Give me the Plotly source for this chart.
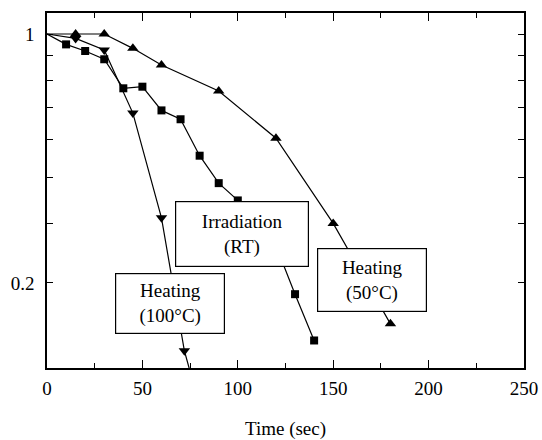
import math
import plotly.graph_objects as go

# ---- data ----
time_rt = [0, 10, 20, 30, 40, 50, 60, 70, 80, 90, 100, 110, 120, 130, 140]
ratio_rt = [1.0, 0.951, 0.921, 0.885, 0.769, 0.775, 0.691, 0.662, 0.555,
            0.486, 0.447, 0.403, 0.359, 0.284, 0.227]

time_50 = [0, 15, 30, 45, 60, 90, 120, 150, 180]
ratio_50 = [1.0, 1.0, 1.0, 0.933, 0.861, 0.759, 0.604, 0.400, 0.246]

time_100 = [0, 15, 30, 45, 60, 72, 80]
ratio_100 = [1.0, 0.979, 0.926, 0.682, 0.411, 0.216, 0.165]

x_ticks = [0, 50, 100, 150, 200, 250]
x_ticklabels = ["0", "50", "100", "150", "200", "250"]
x_minor = [25, 75, 125, 175, 225]
y_ticks = [1.0, 0.9, 0.8, 0.7, 0.6, 0.5, 0.4, 0.3]
y_ticklabels = ["1", "", "", "", "", "", "", "0.2"]

labels = ["Irradiation<br>(RT)", "Heating<br>(100°C)", "Heating<br>(50°C)"]

FONT = "Liberation Serif, Times New Roman, serif"


def sizes(xs, s):
    # the common starting point (t = 0) carries no marker in the reference
    return [0 if x == 0 else s for x in xs]


fig = go.Figure()
line_style = dict(color="black", width=1.2)
no_outline = dict(width=0)
fig.add_trace(go.Scatter(x=time_rt, y=ratio_rt, mode="lines+markers",
                         line=line_style,
                         marker=dict(symbol="square", size=sizes(time_rt, 8),
                                     color="black", opacity=1, line=no_outline),
                         name="Irradiation (RT)"))
fig.add_trace(go.Scatter(x=time_50, y=ratio_50, mode="lines+markers",
                         line=line_style,
                         marker=dict(symbol="triangle-up", size=sizes(time_50, 10),
                                     color="black", opacity=1, line=no_outline),
                         name="Heating (50°C)"))
fig.add_trace(go.Scatter(x=time_100, y=ratio_100, mode="lines+markers",
                         line=line_style,
                         marker=dict(symbol="triangle-down", size=sizes(time_100, 10),
                                     color="black", opacity=1, line=no_outline),
                         name="Heating (100°C)"))

box_pos = [(0.408, 0.378, 128, 60), (0.258, 0.181, 104, 55), (0.681, 0.2475, 104, 58)]
for txt, (px, py, w, h) in zip(labels, box_pos):
    fig.add_annotation(xref="paper", yref="paper", x=px, y=py, text=txt,
                       showarrow=False, xanchor="center", yanchor="middle",
                       width=w, height=h, bgcolor="white", bordercolor="black",
                       borderwidth=1.2, borderpad=2,
                       font=dict(family=FONT, size=19, color="black"))

fig.update_layout(
    width=542, height=440,
    margin=dict(l=47.3, r=17.7, t=13, b=71.5, autoexpand=False),
    plot_bgcolor="white", paper_bgcolor="white",
    showlegend=False,
    font=dict(family=FONT, size=19, color="black"),
)
fig.update_xaxes(range=[0, 250], tickvals=x_ticks, ticktext=x_ticklabels,
                 automargin=False,
                 ticks="inside", ticklen=8, tickwidth=1.2, tickcolor="black",
                 minor=dict(tickvals=x_minor, ticks="inside", ticklen=5,
                            tickwidth=1.2, tickcolor="black"),
                 showline=True, linewidth=1.5, linecolor="black", mirror="ticks",
                 showgrid=False, zeroline=False, ticklabelstandoff=2,
                 title=dict(text="Time (sec)", font=dict(family=FONT, size=19),
                            standoff=28))
fig.update_yaxes(type="log", range=[math.log10(0.1987), math.log10(1.107)],
                 tickvals=y_ticks, ticktext=y_ticklabels, automargin=False,
                 ticks="inside", ticklen=6, tickwidth=1.2, tickcolor="black",
                 showline=True, linewidth=1.5, linecolor="black", mirror="ticks",
                 showgrid=False, zeroline=False, ticklabelstandoff=7)

# remove the default 8px page margin so the 542x440 figure fills the window exactly
fig.write_html(
    "out.html",
    config={"displayModeBar": False},
    post_script="document.body.style.margin='0';"
                "document.documentElement.style.overflow='hidden';"
                "document.body.style.overflow='hidden';",
)
